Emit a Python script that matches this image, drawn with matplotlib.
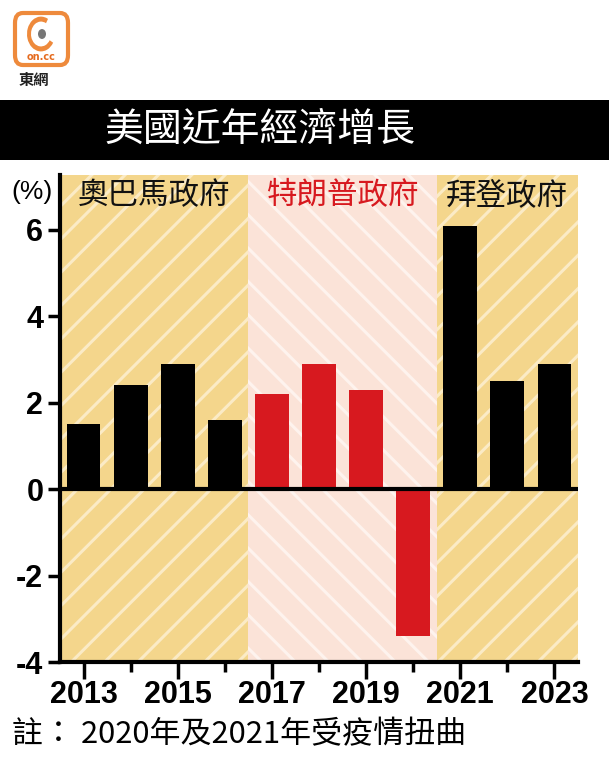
import matplotlib
matplotlib.use('Agg')
import matplotlib.pyplot as plt
from matplotlib.patches import FancyBboxPatch, Rectangle, Circle, Wedge

plt.rcParams['font.family'] = ['Noto Sans CJK TC', 'DejaVu Sans']
plt.rcParams['hatch.linewidth'] = 2.2

# data
years = [2013, 2014, 2015, 2016, 2017, 2018, 2019, 2020, 2021, 2022, 2023]
growth = [1.5, 2.4, 2.9, 1.6, 2.2, 2.9, 2.3, -3.4, 6.1, 2.5, 2.9]
admin = ['obama', 'obama', 'obama', 'obama', 'trump', 'trump', 'trump', 'trump', 'biden', 'biden', 'biden']
admin_names = ['奧巴馬政府', '特朗普政府', '拜登政府']
admin_spans = [(2012.5, 2016.5), (2016.5, 2020.5), (2020.5, 2023.5)]
title = '美國近年經濟增長'
note = '註： 2020年及2021年受疫情扭曲'
yticks = [-4, -2, 0, 2, 4, 6]
xlabels = [2013, 2015, 2017, 2019, 2021, 2023]

bar_colors = {'obama': 'black', 'trump': '#D7191F', 'biden': 'black'}
span_style = [('#F4D68C', '#FBEBC6', '/'), ('#FBE3D8', '#FEF3EE', '\\'), ('#F4D68C', '#FBEBC6', '/')]
name_colors = ['#111111', '#D7191F', '#111111']

fig = plt.figure(figsize=(6.09, 7.57), dpi=100)
W, H = 609, 757

# title band
fig.patches.append(Rectangle((0, 1 - 160 / H), 1, 60 / H, transform=fig.transFigure,
                             facecolor='black', edgecolor='none'))
fig.text(0.427, 1 - 130 / H, title, color='white', fontsize=28, ha='center', va='center')

# logo
fig.patches.append(FancyBboxPatch((15 / W, 1 - 65 / H), 53 / W, 52 / H, transform=fig.transFigure,
                                  boxstyle='round,pad=0,rounding_size=0.013',
                                  facecolor='white', edgecolor='#EE8A3C', linewidth=3))
fig.patches.append(Wedge((41 / W, 1 - 34 / H), 14 / W, 60, 330, width=4 / W,
                         transform=fig.transFigure, facecolor='#EE8A3C', edgecolor='none'))
fig.patches.append(Circle((42 / W, 1 - 34 / H), 4 / W, transform=fig.transFigure,
                          facecolor='#777777', edgecolor='none'))
fig.text(41 / W, 1 - 57 / H, 'on.cc', color='#E56B1F', fontsize=7, ha='center', va='center',
         fontweight='bold', family=['DejaVu Sans'])
fig.text(34 / W, 1 - 80 / H, '東網', color='#222222', fontsize=11, ha='center', va='center',
         fontweight='bold')

ax = fig.add_axes([60 / W, 95 / H, 518 / W, 487 / H])

for (x0, x1), (fc, hc, hp) in zip(admin_spans, span_style):
    ax.axvspan(x0, x1, facecolor=fc, edgecolor=hc, hatch=hp, linewidth=0, zorder=0)

colors = [bar_colors[a] for a in admin]
ax.bar(years, growth, width=0.72, color=colors, zorder=2)
ax.axhline(0, color='black', linewidth=3, zorder=3)

for (x0, x1), name, c in zip(admin_spans, admin_names, name_colors):
    ax.text((x0 + x1) / 2, 6.8, name, color=c, fontsize=22, ha='center', va='center')

ax.set_xlim(2012.5, 2023.5)
ax.set_ylim(-4, 7.27)
ax.set_yticks(yticks)
ax.set_yticklabels([str(v) for v in yticks], fontsize=22, fontweight='bold',
                   family=['Liberation Sans'])
ax.set_xticks(xlabels)
ax.set_xticklabels([str(v) for v in xlabels], fontsize=22, fontweight='bold',
                   family=['Liberation Sans'])
ax.set_xticks([y for y in years if y not in xlabels], minor=True)
ax.tick_params(axis='y', length=9, width=2.5, pad=3)
ax.tick_params(axis='x', which='major', length=12, width=2.5, pad=1)
ax.tick_params(axis='x', which='minor', length=7, width=2.5)

for s in ['top', 'right']:
    ax.spines[s].set_visible(False)
for s in ['left', 'bottom']:
    ax.spines[s].set_linewidth(3)

fig.text(32 / W, 1 - 192 / H, '(%)', fontsize=19, ha='center', va='center',
         family=['Liberation Sans', 'DejaVu Sans'])
fig.text(12 / W, 1 - 735 / H, note, fontsize=22.3, ha='left', va='center')

fig.savefig('out.png', dpi=100)
